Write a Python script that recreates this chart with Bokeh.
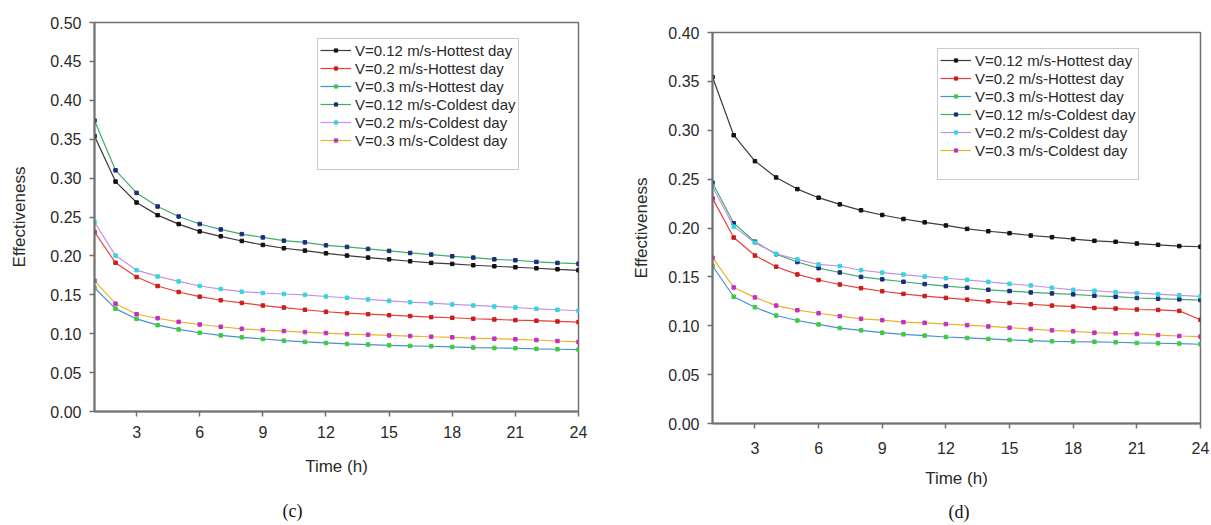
from bokeh.plotting import figure
from bokeh.layouts import row, column
from bokeh.models import Legend, LegendItem, Title, PrintfTickFormatter, FixedTicker, Range1d
from bokeh.embed import file_html
from bokeh.resources import INLINE

hours = list(range(1, 25))
x_ticks = [3, 6, 9, 12, 15, 18, 21, 24]
labels = ["V=0.12 m/s-Hottest day", "V=0.2 m/s-Hottest day", "V=0.3 m/s-Hottest day",
          "V=0.12 m/s-Coldest day", "V=0.2 m/s-Coldest day", "V=0.3 m/s-Coldest day"]

# panel (c)
c_hot_012 = [0.354, 0.2955, 0.2686, 0.2524, 0.2409, 0.2315, 0.2252, 0.2192, 0.2141, 0.2098, 0.2068, 0.2033,
             0.2004, 0.1978, 0.1956, 0.1931, 0.191, 0.1897, 0.188, 0.1867, 0.1854, 0.1841, 0.1828, 0.1815]
c_hot_02 = [0.2307, 0.1911, 0.1728, 0.1613, 0.1536, 0.1476, 0.143, 0.1396, 0.1362, 0.1336, 0.1308, 0.1282,
            0.1264, 0.1251, 0.1238, 0.1226, 0.1213, 0.1205, 0.1192, 0.1183, 0.1174, 0.1167, 0.1158, 0.1149]
c_hot_03 = [0.159, 0.1322, 0.119, 0.111, 0.1055, 0.1012, 0.0978, 0.0953, 0.0932, 0.091, 0.0894, 0.0881,
            0.0868, 0.086, 0.0851, 0.0843, 0.0839, 0.083, 0.0822, 0.0817, 0.0813, 0.0805, 0.080, 0.0796]
c_cold_012 = [0.374, 0.310, 0.281, 0.2635, 0.2507, 0.241, 0.234, 0.228, 0.2238, 0.2196, 0.2174, 0.2136,
              0.2115, 0.209, 0.2064, 0.2038, 0.2017, 0.1995, 0.1978, 0.1956, 0.1944, 0.1923, 0.191, 0.190]
c_cold_02 = [0.2433, 0.2004, 0.1817, 0.1736, 0.1672, 0.1613, 0.1574, 0.154, 0.1523, 0.151, 0.150, 0.1478,
             0.1462, 0.144, 0.1423, 0.1405, 0.1392, 0.1376, 0.1363, 0.135, 0.1337, 0.132, 0.1308, 0.1295]
c_cold_03 = [0.168, 0.1386, 0.125, 0.1199, 0.1152, 0.1118, 0.1089, 0.1063, 0.1046, 0.1034, 0.1021, 0.1008,
             0.0995, 0.0987, 0.0978, 0.097, 0.0961, 0.0953, 0.0944, 0.0936, 0.0928, 0.0919, 0.0906, 0.0894]

# panel (d)
d_hot_012 = [0.3544, 0.2949, 0.2684, 0.2517, 0.2398, 0.231, 0.2242, 0.2181, 0.2133, 0.2092, 0.2058, 0.2026,
             0.1991, 0.1967, 0.1947, 0.1923, 0.1906, 0.1886, 0.1869, 0.1859, 0.1841, 0.1828, 0.1815, 0.1808]
d_hot_02 = [0.2303, 0.1902, 0.1718, 0.1604, 0.1525, 0.1468, 0.1422, 0.1384, 0.1353, 0.1326, 0.1304, 0.1285,
            0.1267, 0.125, 0.1233, 0.122, 0.1206, 0.1196, 0.1182, 0.1176, 0.1166, 0.1162, 0.1152, 0.1061]
d_hot_03 = [0.1611, 0.1297, 0.1189, 0.1105, 0.1054, 0.1014, 0.0976, 0.0953, 0.0929, 0.0912, 0.0899, 0.0885,
            0.0875, 0.0865, 0.0855, 0.0848, 0.0841, 0.0838, 0.0836, 0.0831, 0.0824, 0.0821, 0.0818, 0.0811]
d_cold_012 = [0.2463, 0.2048, 0.186, 0.1732, 0.1652, 0.1589, 0.1545, 0.150, 0.1475, 0.145, 0.1426, 0.1405,
              0.1389, 0.1368, 0.1355, 0.1341, 0.1331, 0.1321, 0.1307, 0.1297, 0.1284, 0.1277, 0.127, 0.1263]
d_cold_02 = [0.2422, 0.2014, 0.185, 0.1735, 0.1679, 0.1627, 0.1611, 0.1568, 0.1544, 0.1524, 0.1503, 0.1486,
             0.147, 0.1449, 0.1429, 0.1412, 0.1389, 0.1368, 0.1358, 0.1345, 0.1334, 0.1324, 0.1311, 0.1301]
d_cold_03 = [0.1696, 0.1392, 0.129, 0.1206, 0.1159, 0.1128, 0.1098, 0.1071, 0.1057, 0.1037, 0.103, 0.1017,
             0.1006, 0.0993, 0.098, 0.0966, 0.0953, 0.0943, 0.0929, 0.0922, 0.0916, 0.0905, 0.0895, 0.0889]

line_colors = ["#3c3c3c", "#e8403a", "#4a8fd6", "#3cb06a", "#c890e0", "#e8b428"]
marker_colors = ["#111111", "#c81e1e", "#3ccc3c", "#1f2a80", "#30d8e0", "#c030c8"]

FONT = "Liberation Sans"
AX_COL = "#707070"
TXT_COL = "#2a2a2a"


def make_panel(series, ymax, yticks, width, height, bl, br, bt, bb, leg_loc, caption, cap_offset,
               spacer, ylabel_standoff, xtick_standoff, xlabel_standoff):
    p = figure(width=width, height=height, output_backend="svg", toolbar_location=None, title=None,
               x_range=Range1d(1, 24), y_range=Range1d(0, ymax),
               min_border_left=bl, min_border_right=br, min_border_top=bt, min_border_bottom=bb)
    p.xgrid.visible = False
    p.ygrid.visible = False
    p.outline_line_color = AX_COL
    p.outline_line_width = 1.5
    p.background_fill_color = "white"
    p.border_fill_color = "white"

    items = []
    for ys, lc, mc, lab in zip(series, line_colors, marker_colors, labels):
        r1 = p.line(hours, ys, line_color=lc, line_width=1.2)
        r2 = p.scatter(hours, ys, marker="square", size=3.5, fill_color=mc, line_color=mc)
        items.append(LegendItem(label=lab, renderers=[r1, r2]))
    blank = p.line([], [], line_alpha=0)
    items.append(LegendItem(label=" ", renderers=[blank]))

    leg = Legend(items=items, location=leg_loc)
    leg.border_line_color = "#9a9a9a"
    leg.border_line_width = 1
    leg.background_fill_color = "white"
    leg.background_fill_alpha = 1
    leg.label_text_font = FONT
    leg.label_text_font_size = "15px"
    leg.label_text_color = TXT_COL
    leg.glyph_width = 31
    leg.glyph_height = 8
    leg.label_height = 18
    leg.label_standoff = 4
    leg.spacing = 0
    leg.padding = 2
    leg.margin = 0
    p.add_layout(leg, "center")

    for ax in (p.xaxis[0], p.yaxis[0]):
        ax.axis_line_color = AX_COL
        ax.axis_line_width = 2
        ax.major_tick_line_color = AX_COL
        ax.major_tick_line_width = 1.5
        ax.major_tick_out = 5
        ax.major_tick_in = 0
        ax.minor_tick_line_color = None
        ax.major_label_text_font = FONT
        ax.major_label_text_font_size = "16px"
        ax.major_label_text_color = TXT_COL
        ax.axis_label_text_font = FONT
        ax.axis_label_text_font_size = "17px"
        ax.axis_label_text_font_style = "normal"
        ax.axis_label_text_color = TXT_COL

    p.xaxis.major_label_standoff = xtick_standoff
    p.yaxis.major_label_standoff = 8
    p.xaxis.ticker = FixedTicker(ticks=x_ticks)
    p.yaxis.ticker = FixedTicker(ticks=yticks)
    p.yaxis.formatter = PrintfTickFormatter(format="%.2f")
    p.xaxis.axis_label = "Time (h)"
    p.yaxis.axis_label = "Effectiveness"
    p.yaxis.axis_label_standoff = ylabel_standoff
    p.xaxis.axis_label_standoff = xlabel_standoff

    if spacer:
        p.add_layout(Title(text=" ", text_font_size=f"{spacer}px", standoff=0), "below")
    cap = Title(text=caption, align="left", text_font="Liberation Serif", text_font_size="18px",
                text_font_style="normal", text_color="#111111", standoff=2, offset=cap_offset)
    p.add_layout(cap, "below")
    return p


p1 = make_panel([c_hot_012, c_hot_02, c_hot_03, c_cold_012, c_cold_02, c_cold_03],
                0.5, [i * 0.05 for i in range(11)], 612, 525, 94, 34, 22, 114,
                (223, 241), "(c)", 188, 15, 18, 9, 16)
p2 = make_panel([d_hot_012, d_hot_02, d_hot_03, d_cold_012, d_cold_02, d_cold_03],
                0.4, [i * 0.05 for i in range(9)], 599, 525, 100, 11, 32, 102,
                (225, 243), "(d)", 236, 6, 14, 13, 12)

layout = row(column(p1), column(p2))
open("out.html", "w").write(file_html(layout, INLINE))
